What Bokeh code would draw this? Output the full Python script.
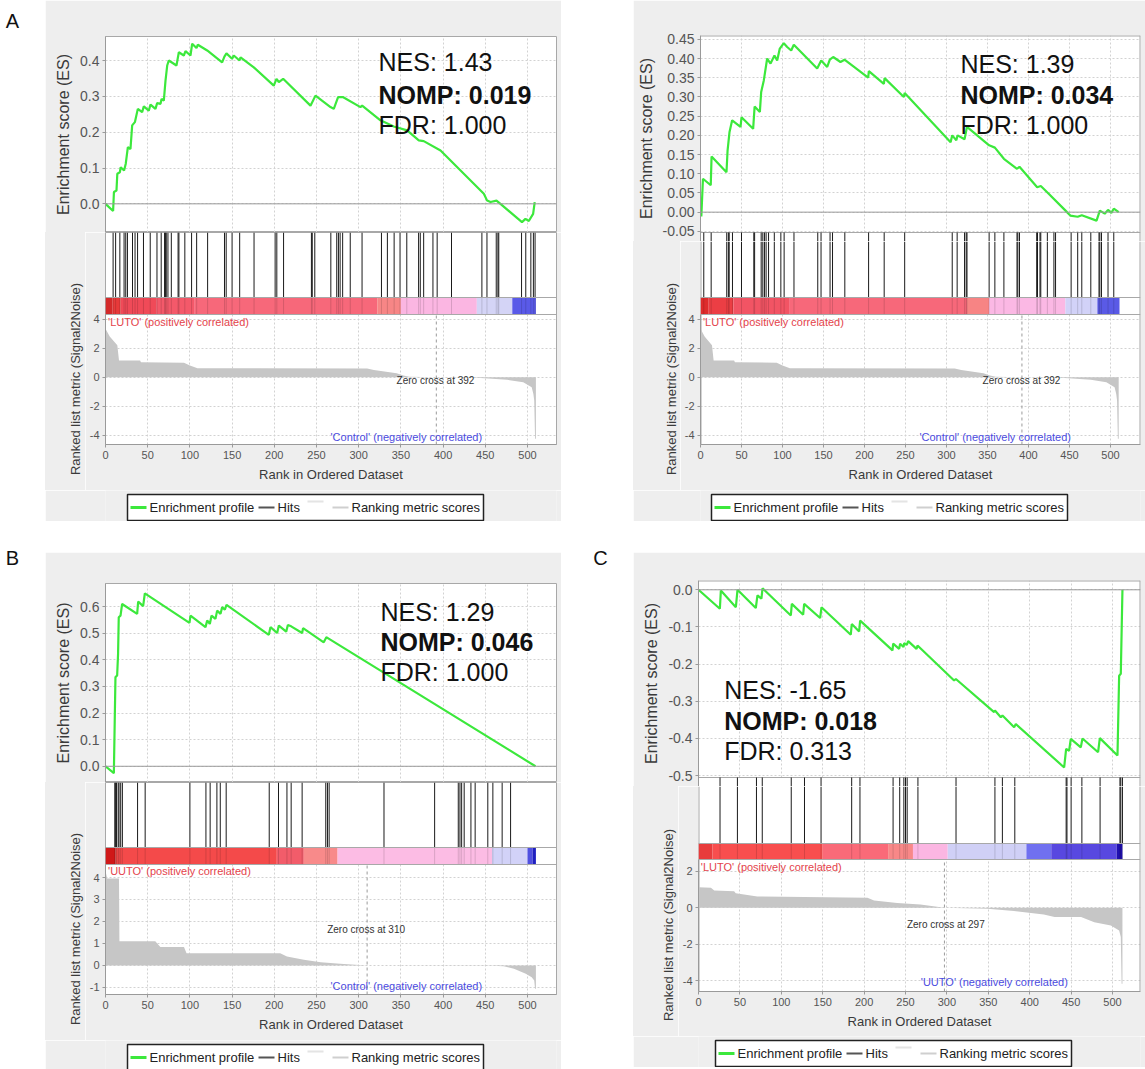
from bokeh.plotting import figure
from bokeh.models import (Range1d, LinearAxis, FixedTicker, Grid, Span, Label,
                          PrintfTickFormatter, Spacer, Div)
from bokeh.layouts import row, column
from bokeh.embed import file_html
from bokeh.resources import INLINE

FONT = "Liberation Sans"
PANEL_BG = "#eeeeee"
GREEN = "#3ce83c"
FRAME_COL = "#a8a8a8"

rank_ticks = [0, 50, 100, 150, 200, 250, 300, 350, 400, 450, 500]

# ---------------------------------------------------------------- EMT
emt_title = "Enrichment plot: EMT"
emt_stats = ["NES: 1.43", "NOMP: 0.019", "FDR: 1.000"]
emt_es_points = [(0, 0.0), (9, -0.02), (10, 0.033), (13, 0.037), (14, 0.084), (17, 0.088), (18, 0.102),
                 (22, 0.093), (24, 0.112), (26.5, 0.158), (29.6, 0.153), (31.6, 0.219), (34.8, 0.228),
                 (38.3, 0.265), (43.4, 0.256), (45.4, 0.272), (51.3, 0.26), (53.3, 0.277), (59.2, 0.265),
                 (61.2, 0.281), (65.2, 0.279), (66.4, 0.293), (69.1, 0.288), (71.1, 0.344), (73.1, 0.386),
                 (75, 0.40), (84.1, 0.386), (86.9, 0.423), (92.8, 0.414), (94.8, 0.426), (100.7, 0.414),
                 (102.7, 0.447), (107.8, 0.435), (109.4, 0.444), (120.5, 0.428), (138.2, 0.395),
                 (140.9, 0.411), (143.3, 0.42), (150, 0.405), (152, 0.414), (158.8, 0.40), (160, 0.409),
                 (175.7, 0.381), (199.4, 0.33), (202.6, 0.349), (205.4, 0.34), (210.5, 0.349),
                 (242.9, 0.274), (248.8, 0.302), (266.6, 0.27), (270.5, 0.265), (275.6, 0.298),
                 (281.2, 0.298), (302.1, 0.27), (304.1, 0.274), (325.8, 0.233), (341.6, 0.216),
                 (357.4, 0.205), (371.2, 0.177), (377.1, 0.175), (397, 0.149), (448.3, 0.028),
                 (452.2, 0.009), (456.2, 0.005), (463.3, 0.009), (468, 0.0), (493.5, -0.051),
                 (497.6, -0.042), (501.6, -0.048), (506.7, -0.028), (508.6, 0.005)]
emt_hits = [9, 12, 17, 22, 24, 26, 32, 35, 38, 45, 53, 61, 66, 70, 71, 72, 74, 78, 86, 87, 94, 102, 108,
            121, 141, 143, 150, 159, 176, 201, 203, 211, 244, 245, 248, 267, 274, 276, 278, 281, 290, 304,
            327, 334, 342, 349, 357, 371, 373, 377, 388, 393, 410, 446, 452, 463, 465, 466, 493, 498, 504,
            507, 509]
emt_bar_edges = [0, 8, 18, 60, 105, 322, 350, 440, 482, 510]
emt_bar_colors = ["#d42a2a", "#e83a3a", "#f04a58", "#f4596a", "#f7687a", "#f78686", "#fbb6e2",
                  "#d4d4f6", "#5a5ae8"]

# LUTO vs Control ranked list (shared by EMT and PI3K-AKT)
luto_control_metric = [(0, 3.35), (5, 2.8), (14, 2.2), (16, 1.15), (41, 1.15), (42, 1.03), (93, 1.0),
                       (100, 0.8), (109, 0.62), (310, 0.6), (318, 0.5), (345, 0.28), (353, 0.11),
                       (360, 0.03), (392, 0.0), (440, -0.03), (476, -0.18), (495, -0.34), (505, -0.69),
                       (507, -1.15), (508, -1.6), (509, -4.25), (510, -4.25)]

# ---------------------------------------------------------------- PI3K-AKT
pi3k_title = "Enrichment plot: PI3K-AKT"
pi3k_stats = ["NES: 1.39", "NOMP: 0.034", "FDR: 1.000"]
pi3k_es_points = [(0, 0.0), (1, -0.011), (3, 0.087), (12.5, 0.07), (13.5, 0.145), (31.7, 0.104),
                  (33, 0.16), (35.4, 0.209), (38.6, 0.239), (48.8, 0.222), (50, 0.247), (64.2, 0.217),
                  (66, 0.275), (72.4, 0.261), (74, 0.313), (77.2, 0.343), (81.3, 0.40), (85.4, 0.387),
                  (90.2, 0.408), (93.5, 0.395), (96.7, 0.426), (101.6, 0.44), (105.7, 0.43),
                  (110.6, 0.421), (113.8, 0.436), (142.3, 0.374), (147.2, 0.395), (154.5, 0.378),
                  (157.7, 0.397), (161.8, 0.404), (170.7, 0.391), (175.6, 0.397), (204.5, 0.35),
                  (205.3, 0.367), (223.6, 0.334), (224.5, 0.349), (248, 0.30), (249, 0.31),
                  (305, 0.182), (307, 0.20), (312, 0.187), (313.5, 0.2), (322, 0.19), (325, 0.222),
                  (352, 0.174), (359, 0.168), (370, 0.139), (386, 0.113), (389, 0.118), (410.6, 0.065),
                  (415, 0.068), (422.8, 0.052), (447, 0.0), (451, -0.009), (460, -0.012), (465, -0.008),
                  (483, -0.022), (487, 0.004), (493, -0.004), (497, 0.006), (501, -0.002), (504, 0.009),
                  (510, 0.0)]
pi3k_hits = [4, 13, 32, 34, 35, 39, 50, 65, 66, 74, 76, 78, 80, 83, 90, 98, 102, 114, 143, 147, 158,
             161, 176, 205, 224, 249, 307, 313, 322, 324, 325, 352, 359, 370, 386, 387, 389, 410, 411,
             414, 415, 423, 431, 433, 452, 460, 465, 476, 486, 487, 489, 497, 504]
pi3k_bar_edges = [0, 10, 40, 108, 325, 352, 445, 484, 511]
pi3k_bar_colors = ["#de2c2c", "#ec3e44", "#f25464", "#f7687a", "#f78484", "#fbb8e4", "#d2d2f8",
                   "#5a5ae6"]

# ---------------------------------------------------------------- ECM DEGRADATION
ecmd_title = "Enrichment plot: ECM DEGRADATION"
ecmd_stats = ["NES: 1.29", "NOMP: 0.046", "FDR: 1.000"]
ecmd_es_points = [(0, 0.0), (9.9, -0.026), (11.8, 0.335), (13.8, 0.341), (14.9, 0.422), (15.7, 0.56),
                  (17.8, 0.566), (19.7, 0.61), (37.5, 0.573), (38.7, 0.619), (44.6, 0.602), (46.6, 0.65),
                  (99.5, 0.539), (100.7, 0.566), (118.5, 0.523), (120.5, 0.548), (123.6, 0.535),
                  (125.6, 0.566), (130.3, 0.554), (132.3, 0.585), (136.3, 0.573), (138.2, 0.598),
                  (141.4, 0.589), (143.4, 0.607), (193.5, 0.494), (195.5, 0.523), (203.4, 0.501),
                  (205.4, 0.529), (214.1, 0.506), (216.1, 0.531), (220, 0.526), (233, 0.501),
                  (234.1, 0.519), (258.6, 0.466), (261.7, 0.485), (264.9, 0.479), (509.5, 0.0)]
ecmd_hits = [11, 12, 13, 15, 16, 18, 20, 38, 47, 100, 119, 124, 132, 136, 143, 194, 205, 215, 220, 233,
             261, 263, 265, 330, 390, 418, 420, 422, 425, 433, 438, 453, 459, 470, 480]
ecmd_metric = [(0, 4.3), (2, 3.95), (16, 3.95), (16.5, 1.1), (59, 1.1), (65, 0.84), (93, 0.84),
               (96, 0.56), (207, 0.56), (215, 0.41), (235, 0.26), (255, 0.15), (278, 0.08), (310, 0.0),
               (458, -0.01), (472, -0.04), (484, -0.15), (498, -0.38), (505, -0.53), (508, -0.68),
               (509, -1.06), (510, -1.06)]
ecmd_bar_edges = [0, 12, 203, 235, 275, 458, 500, 506, 510]
ecmd_bar_colors = ["#d01818", "#f44a4a", "#f25c6a", "#f88a8a", "#fcbce4", "#d2d2f8", "#5050e0",
                   "#2020c0"]

# ---------------------------------------------------------------- ECM SYNTHESIS
ecms_title = "Enrichment plot: ECM SYNTHESIS"
ecms_stats = ["NES: -1.65", "NOMP: 0.018", "FDR: 0.313"]
ecms_es_points = [(0, 0.0), (25.8, -0.051), (27, -0.002), (45.1, -0.047), (47.1, 0.0), (69.2, -0.049),
                  (71.2, -0.015), (76, -0.024), (77.3, 0.004), (111.5, -0.069), (112.7, -0.038),
                  (126.4, -0.067), (127.6, -0.038), (146.9, -0.076), (148.5, -0.047), (183.9, -0.121),
                  (185.1, -0.092), (194, -0.112), (195.2, -0.083), (234.3, -0.163), (235.1, -0.145),
                  (242.3, -0.159), (243.5, -0.145), (247.6, -0.154), (248.4, -0.144), (251.6, -0.148),
                  (253.2, -0.138), (263.3, -0.159), (264.5, -0.15), (308.7, -0.244), (310.8, -0.24),
                  (357, -0.329), (358, -0.325), (365.1, -0.343), (367.1, -0.338), (381.2, -0.37),
                  (383.2, -0.361), (441.6, -0.478), (444, -0.428), (447.6, -0.433), (449.6, -0.401),
                  (461.7, -0.424), (463.7, -0.40), (482.6, -0.437), (484.7, -0.399), (506, -0.446),
                  (508, -0.231), (510, -0.226), (512, 0.0)]
ecms_hits = [26, 47, 70, 77, 112, 128, 148, 185, 195, 235, 243, 248, 250, 252, 265, 311, 358, 367, 382,
             444, 445, 450, 463, 485, 509, 510, 512]
ecms_metric = [(0, 1.13), (15, 1.1), (19, 0.95), (43, 0.91), (45, 0.8), (71, 0.62), (204, 0.55),
               (212, 0.4), (240, 0.26), (268, 0.18), (297, 0.0), (349, -0.05), (381, -0.18),
               (417, -0.37), (430, -0.51), (462, -0.51), (478, -0.79), (498, -0.97), (508, -1.24),
               (510, -1.6), (511, -4.17), (512, -4.17)]
ecms_bar_edges = [0, 17, 150, 229, 259, 301, 396, 426, 505, 512]
ecms_bar_colors = ["#e83c3c", "#f84e4e", "#fa6a78", "#f88888", "#fbb6e2", "#d0d0f6", "#7070f0",
                   "#5848e0", "#2010b0"]

# legend (GSEA style: profile, hits, an unlabeled entry, ranking metric)
legend_labels = ["Enrichment profile", "Hits", "", "Ranking metric scores"]
legend_colors = [GREEN, "#555555", "#e4e4e4", "#cfcfcf"]
legend_widths = [3, 2, 2, 2]


def style_axis(ax, tick_px, label_px):
    ax.axis_line_color = "#9a9a9a"
    ax.major_tick_line_color = "#9a9a9a"
    ax.major_tick_out = 3
    ax.major_tick_in = 0
    ax.minor_tick_line_color = None
    ax.major_label_text_font = FONT
    ax.major_label_text_font_size = f"{tick_px}px"
    ax.major_label_text_color = "#555555"
    ax.major_label_standoff = 3
    ax.axis_label_text_font = FONT
    ax.axis_label_text_font_size = f"{label_px}px"
    ax.axis_label_text_font_style = "normal"
    ax.axis_label_text_color = "#3a3a3a"
    ax.axis_label_standoff = 5


def make_es(cfg):
    """ES plot. With ext > 0 the frame also holds the top few pixels of the hits strip,
    so that a tick value sitting on the ES bottom edge is drawn whole."""
    lo, hi = cfg["es_range"]
    ext = cfg.get("ext", 0)
    xmax = cfg["xmax"]
    ppu = (cfg["es_H"] - cfg["es_T"]) / (hi - lo)
    lo_ext = lo - ext / ppu
    p = figure(width=cfg["W"], height=cfg["es_H"] + ext, x_range=Range1d(0, xmax),
               y_range=Range1d(lo_ext, hi), x_axis_type=None, y_axis_type=None, title=None,
               toolbar_location=None, output_backend="svg",
               min_border_left=cfg["L"], min_border_right=cfg["R"],
               min_border_top=cfg["es_T"], min_border_bottom=0)
    p.border_fill_color = PANEL_BG
    p.background_fill_color = "white"
    ticks = cfg["es_ticks"]
    xg = Grid(dimension=0, ticker=FixedTicker(ticks=rank_ticks),
              grid_line_color="#d2d2d2", grid_line_dash="2 2")
    if ext and "cross_bounds" in Grid.properties():
        xg.cross_bounds = (lo, hi)
    p.add_layout(xg)
    p.add_layout(Grid(dimension=1, ticker=FixedTicker(ticks=ticks),
                      grid_line_color="#d2d2d2", grid_line_dash="2 2"))
    ax = LinearAxis(ticker=FixedTicker(ticks=ticks),
                    formatter=PrintfTickFormatter(format=cfg["es_fmt"]),
                    axis_label="Enrichment score (ES)")
    style_axis(ax, 14, 16)
    p.add_layout(ax, "left")
    if ext:
        p.outline_line_color = None
        # frame edges: top, right, and the ES / hits separator
        p.segment(x0=[0, xmax], y0=[hi, lo_ext], x1=[xmax, xmax], y1=[hi, hi],
                  line_color=FRAME_COL, line_width=2)
        p.segment(x0=[0], y0=[lo], x1=[xmax], y1=[lo], line_color=FRAME_COL, line_width=1)
        # upper part of the hit lines
        p.segment(x0=cfg["hits"], y0=lo_ext, x1=cfg["hits"], y1=lo, line_color="#1a1a1a",
                  line_width=1)
    else:
        p.outline_line_color = FRAME_COL
    p.add_layout(Span(location=0, dimension="width", line_color="#9a9a9a", line_width=1))
    xs = [pt[0] for pt in cfg["es"]]
    ys = [pt[1] for pt in cfg["es"]]
    p.line(xs, ys, line_color=GREEN, line_width=2.2)
    tx, ty = cfg["title_xy"]
    p.add_layout(Label(x=tx, y=ty, text=cfg["title"], text_font=FONT, text_font_size="18px",
                       text_font_style="bold", text_color="#111111", text_align="center",
                       text_baseline="middle"))
    for txt, yy, style in zip(cfg["stats"], cfg["stats_y"], ["normal", "bold", "normal"]):
        p.add_layout(Label(x=cfg["stats_x"], y=yy, text=txt, text_font=FONT, text_font_size="25px",
                           text_font_style=style, text_color="#111111", text_align="left",
                           text_baseline="middle"))
    return p


LAB_W_OFF = 20   # width of the tick-label border kept on the track figure


def track_cfg(cfg):
    """Track geometry once the ES frame has taken `ext` pixels of the hits strip."""
    ext = cfg.get("ext", 0)
    ylo, yhi = cfg["rk_range"]
    ppu = cfg["rk_h"] / (cfg["rk_top"] - ylo)
    return dict(cfg, hits_h=cfg["hits_h"] - ext, trk_H=cfg["trk_H"] - ext,
                rk_range=(ylo, yhi - ext / ppu))


def make_rank_label(cfg):
    """Strip holding the rotated 'Ranked list metric' title, centred on the metric part."""
    w = cfg["L"] - LAB_W_OFF
    h = cfg["trk_H"]
    cx = cfg["rk_label_cx"]
    cy = cfg["hits_h"] + cfg["cb_h"] + cfg["rk_h"] / 2
    html = (f'<div style="position:relative;width:{w}px;height:{h}px;background:{PANEL_BG};'
            f'overflow:hidden;">'
            f'<div style="position:absolute;left:{cx}px;top:{cy}px;'
            f'transform:translate(-50%,-50%) rotate(-90deg);white-space:nowrap;'
            f"font-family:'{FONT}';font-size:13px;line-height:15px;color:#3a3a3a;\">"
            f'Ranked list metric (Signal2Noise)</div></div>')
    return Div(text=html, width=w, height=h, margin=0, styles={"background-color": PANEL_BG})


def make_track(cfg):
    ylo, yhi = cfg["rk_range"]
    rk_top = cfg["rk_top"]
    ext = cfg.get("ext", 0)
    xmax = cfg["xmax"]
    w = cfg["W"] - (cfg["L"] - LAB_W_OFF)
    p = figure(width=w, height=cfg["trk_H"], x_range=Range1d(0, xmax),
               y_range=Range1d(ylo, yhi), x_axis_type=None, y_axis_type=None, title=None,
               toolbar_location=None, output_backend="svg",
               min_border_left=LAB_W_OFF, min_border_right=cfg["R"],
               min_border_top=0, min_border_bottom=cfg["trk_B"])
    p.border_fill_color = PANEL_BG
    p.background_fill_color = "white"
    if ext:
        # no top edge here: the hits strip continues from the ES figure above
        p.outline_line_color = None
        p.segment(x0=[0, xmax], y0=[ylo, ylo], x1=[0, xmax], y1=[yhi, yhi],
                  line_color=FRAME_COL, line_width=2)
    else:
        p.outline_line_color = FRAME_COL
    hh, cb, rk = cfg["hits_h"], cfg["cb_h"], cfg["rk_h"]
    cbn = cb / hh
    p.extra_y_ranges = {"track": Range1d(-(cb + rk) / hh, 1.0)}

    # grids restricted to the ranked-metric part
    p.add_layout(Grid(dimension=1, ticker=FixedTicker(ticks=cfg["rk_ticks"]),
                      grid_line_color="#d2d2d2", grid_line_dash="2 2"))
    if "cross_bounds" in Grid.properties():
        xg = Grid(dimension=0, ticker=FixedTicker(ticks=rank_ticks),
                  grid_line_color="#d2d2d2", grid_line_dash="2 2")
        xg.cross_bounds = (ylo, rk_top)
        p.add_layout(xg)
    else:
        p.segment(x0=rank_ticks, y0=ylo, x1=rank_ticks, y1=rk_top, line_color="#d2d2d2",
                  line_dash="2 2", line_width=1)

    # ranked list metric
    mx = [pt[0] for pt in cfg["metric"]]
    my = [pt[1] for pt in cfg["metric"]]
    p.varea(x=mx, y1=0, y2=my, fill_color="#c6c6c6")

    # zero cross
    zc = cfg["zero"]
    p.segment(x0=[zc], y0=[ylo], x1=[zc], y1=[rk_top], line_color="#9a9a9a", line_dash="3 3")
    zx, zy = cfg["zero_xy"]
    p.add_layout(Label(x=zx, y=zy, text=f"Zero cross at {zc}", text_font=FONT, text_font_size="10px",
                       text_color="#333333", text_align="center", text_baseline="middle"))
    ptxt, px_, py_ = cfg["pos_label"]
    p.add_layout(Label(x=px_, y=py_, text=ptxt, text_font=FONT, text_font_size="11px",
                       text_color="#e4434b", text_align="left", text_baseline="middle"))
    ntxt, nx_, ny_ = cfg["neg_label"]
    p.add_layout(Label(x=nx_, y=ny_, text=ntxt, text_font=FONT, text_font_size="11px",
                       text_color="#4b4be0", text_align="left", text_baseline="middle"))

    # colour bar
    edges = cfg["bar_edges"]
    p.quad(left=edges[:-1], right=edges[1:], bottom=-cbn, top=0, fill_color=cfg["bar_colors"],
           line_color=None, y_range_name="track")
    hits = cfg["hits"]
    p.segment(x0=hits, y0=-cbn, x1=hits, y1=0, line_color="#000000", line_alpha=0.14,
              y_range_name="track")
    # hits
    p.segment(x0=hits, y0=0, x1=hits, y1=1, line_color="#1a1a1a", line_width=1,
              y_range_name="track")
    for loc in (0, -cbn):
        p.add_layout(Span(location=loc, dimension="width", y_range_name="track",
                          line_color=FRAME_COL, line_width=1))

    ay = LinearAxis(ticker=FixedTicker(ticks=cfg["rk_ticks"]),
                    formatter=PrintfTickFormatter(format="%d"), bounds=(ylo, rk_top))
    style_axis(ay, 11, 13)
    p.add_layout(ay, "left")
    axx = LinearAxis(ticker=FixedTicker(ticks=rank_ticks), axis_label="Rank in Ordered Dataset")
    style_axis(axx, 11, 13)
    p.add_layout(axx, "below")
    return p


def make_legend(cfg):
    W, H, L, R = cfg["W"], cfg["leg_H"], cfg["L"], cfg["R"]
    # borders match the other plots of the column (Bokeh aligns them); x data = pixels from panel left
    p = figure(width=W, height=H, x_range=Range1d(L, W - R), y_range=Range1d(H, 0),
               x_axis_type=None, y_axis_type=None, title=None, toolbar_location=None,
               output_backend="svg", min_border_left=L, min_border_right=R,
               min_border_top=0, min_border_bottom=0)
    p.border_fill_color = PANEL_BG
    p.background_fill_color = PANEL_BG
    p.outline_line_color = None
    x0 = cfg["leg_x"]
    p.quad(left=[x0], right=[x0 + 356], top=[4], bottom=[30], fill_color="white",
           line_color="#222222", line_width=1.5)
    glyph_x = [x0 + 3, x0 + 131, x0 + 180, x0 + 205]
    glyph_y = [17, 17, 11, 17]
    p.segment(x0=glyph_x, y0=glyph_y, x1=[g + 16 for g in glyph_x], y1=glyph_y,
              line_color=legend_colors, line_width=legend_widths)
    for gx, lab in zip(glyph_x, legend_labels):
        if lab:
            p.add_layout(Label(x=gx + 19, y=17, text=lab, text_font=FONT, text_font_size="13px",
                               text_color="#222222", text_align="left", text_baseline="middle"))
    return p


def letter_fig(w, h, txt, x, y):
    p = figure(width=w, height=h, x_range=Range1d(0, w), y_range=Range1d(h, 0),
               x_axis_type=None, y_axis_type=None, title=None, toolbar_location=None,
               output_backend="svg", min_border_left=0, min_border_right=0,
               min_border_top=0, min_border_bottom=0)
    p.outline_line_color = None
    p.background_fill_color = "white"
    p.border_fill_color = "white"
    p.add_layout(Label(x=x, y=y, text=txt, text_font=FONT, text_font_size="20px",
                       text_color="#111111", text_align="center", text_baseline="middle"))
    return p


cfg_emt = dict(title=emt_title, stats=emt_stats, es=emt_es_points, hits=emt_hits,
               metric=luto_control_metric, bar_edges=emt_bar_edges, bar_colors=emt_bar_colors,
               W=516, L=60, R=5, xmax=534.4, es_H=232, es_T=36, es_range=(-0.080, 0.467),
               es_ticks=[0.0, 0.1, 0.2, 0.3, 0.4], es_fmt="%.1f", title_xy=(239.3, 0.5256),
               stats_x=323.5, stats_y=[0.395, 0.305, 0.221],
               trk_H=258, trk_B=46, rk_range=(-4.64, 9.98), rk_top=4.32, rk_ticks=[-4, -2, 0, 2, 4],
               hits_h=65, cb_h=17, rk_h=130, zero=392, zero_xy=(391, -0.2), rk_label_cx=30,
               pos_label=("'LUTO' (positively correlated)", 3, 3.84),
               neg_label=("'Control' (negatively correlated)", 266.6, -4.14),
               leg_H=31, leg_x=82)

cfg_pi3k = dict(title=pi3k_title, stats=pi3k_stats, es=pi3k_es_points, hits=pi3k_hits,
                metric=luto_control_metric, bar_edges=pi3k_bar_edges, bar_colors=pi3k_bar_colors,
                W=512, L=67, R=5, xmax=536.6, es_H=232, es_T=35, es_range=(-0.053, 0.460),
                es_ticks=[-0.05, 0.0, 0.05, 0.1, 0.15, 0.2, 0.25, 0.3, 0.35, 0.4, 0.45],
                ext=9, es_fmt="%.2f", title_xy=(229.3, 0.508),
                stats_x=317, stats_y=[0.386, 0.304, 0.226],
                trk_H=258, trk_B=46, rk_range=(-4.64, 9.98), rk_top=4.32, rk_ticks=[-4, -2, 0, 2, 4],
                hits_h=65, cb_h=17, rk_h=130, zero=392, zero_xy=(391.5, -0.2), rk_label_cx=38,
                pos_label=("'LUTO' (positively correlated)", 3, 3.84),
                neg_label=("'Control' (negatively correlated)", 267, -4.14),
                leg_H=31, leg_x=78)

cfg_ecmd = dict(title=ecmd_title, stats=ecmd_stats, es=ecmd_es_points, hits=ecmd_hits,
                metric=ecmd_metric, bar_edges=ecmd_bar_edges, bar_colors=ecmd_bar_colors,
                W=516, L=60, R=5, xmax=534.4, es_H=230, es_T=31, es_range=(-0.061, 0.687),
                es_ticks=[0.0, 0.1, 0.2, 0.3, 0.4, 0.5, 0.6], es_fmt="%.1f", title_xy=(237, 0.751),
                stats_x=325.8, stats_y=[0.579, 0.466, 0.353],
                trk_H=258, trk_B=46, rk_range=(-1.32, 8.32), rk_top=4.59,
                rk_ticks=[-1, 0, 1, 2, 3, 4],
                hits_h=65, cb_h=17, rk_h=130, zero=310, zero_xy=(308.8, 1.65), rk_label_cx=30,
                pos_label=("'UUTO' (positively correlated)", 3, 4.29),
                neg_label=("'Control' (negatively correlated)", 266.6, -0.955),
                leg_H=29, leg_x=82)

cfg_ecms = dict(title=ecms_title, stats=ecms_stats, es=ecms_es_points, hits=ecms_hits,
                metric=ecms_metric, bar_edges=ecms_bar_edges, bar_colors=ecms_bar_colors,
                W=512, L=65, R=5, xmax=533.8, es_H=225, es_T=28, es_range=(-0.505, 0.025),
                es_ticks=[-0.5, -0.4, -0.3, -0.2, -0.1, 0.0], ext=9, es_fmt="%.1f",
                title_xy=(235.3, 0.0735),
                stats_x=31, stats_y=[-0.269, -0.354, -0.435],
                trk_H=259, trk_B=45, rk_range=(-4.59, 7.14), rk_top=2.65, rk_ticks=[-4, -2, 0, 2],
                hits_h=66, cb_h=16, rk_h=132, zero=297, zero_xy=(298.7, -0.93), rk_label_cx=35,
                pos_label=("'LUTO' (positively correlated)", 2.8, 2.22),
                neg_label=("'UUTO' (negatively correlated)", 268.5, -4.09),
                leg_H=31, leg_x=82)


def panel(cfg, top_gap=0, extra_bottom=0):
    tcfg = track_cfg(cfg)
    kids = []
    if top_gap:
        kids.append(Spacer(width=cfg["W"], height=top_gap))
    kids += [make_es(cfg), row(make_rank_label(tcfg), make_track(tcfg), spacing=0),
             make_legend(cfg)]
    if extra_bottom:
        kids.append(Spacer(width=cfg["W"], height=extra_bottom))
    return column(*kids, spacing=0)


top = row(letter_fig(45, 521, "A", 12, 20), panel(cfg_emt), Spacer(width=72, height=521),
          panel(cfg_pi3k), spacing=0)
bottom = row(letter_fig(45, 548, "B", 12, 36), panel(cfg_ecmd, top_gap=31),
             letter_fig(72, 548, "C", 39, 36), panel(cfg_ecms, top_gap=31, extra_bottom=2),
             spacing=0)
page = column(top, bottom, spacing=0)

open("out.html", "w").write(file_html(page, INLINE))
